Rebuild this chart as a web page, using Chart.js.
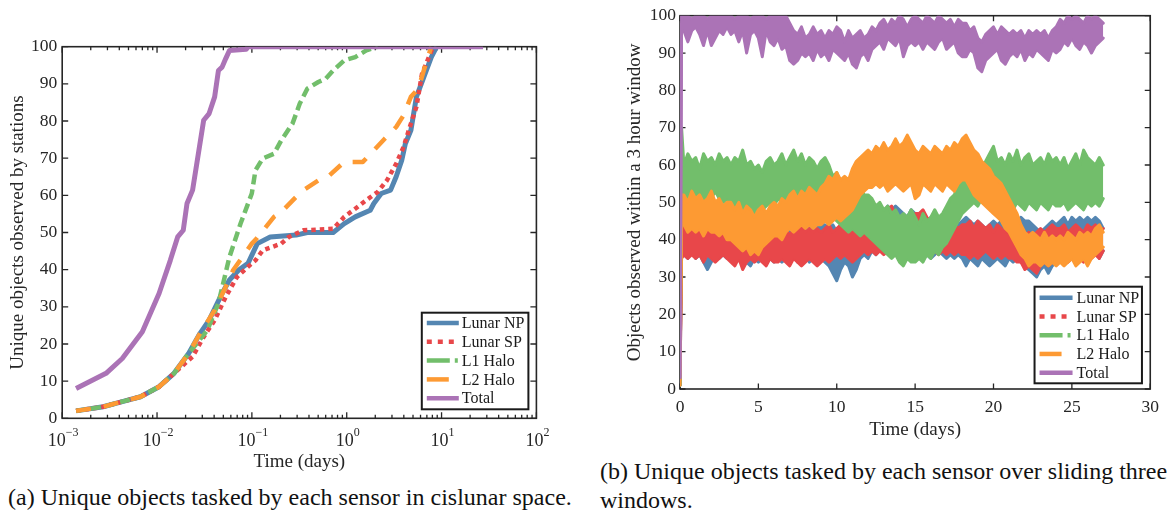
<!DOCTYPE html>
<html>
<head>
<meta charset="utf-8">
<script src="https://cdn.jsdelivr.net/npm/chart.js@4.4.0/dist/chart.umd.min.js"></script>
<style>
  body { margin: 0; background: #fff; width: 1167px; height: 515px; position: relative; overflow: hidden;
         font-family: "Liberation Serif", "Times New Roman", serif; color: #111; }
  .panel { position: absolute; }
  #leftBox { left: 0; top: 0; width: 580px; height: 475px; }
  #rightBox { left: 590px; top: 0; width: 577px; height: 445px; }
  .cap { position: absolute; font-size: 24px; line-height: 29px; white-space: nowrap; }
</style>
</head>
<body>
<div class="panel" id="leftBox"><canvas id="cumChart"></canvas></div>
<div class="panel" id="rightBox"><canvas id="windowChart"></canvas></div>
<div class="cap" style="left:8px; top:483px;">(a) Unique objects tasked by each sensor in cislunar space.</div>
<div class="cap" style="left:600px; top:457px;">(b) Unique objects tasked by each sensor over sliding three<br>windows.</div>
<script>
const serif = '"Liberation Serif", "Times New Roman", serif';
Chart.defaults.font.family = serif;
Chart.defaults.color = '#262626';

const seriesNames = ['Lunar NP', 'Lunar SP', 'L1 Halo', 'L2 Halo', 'Total'];
const colors = ['#5486b2', '#e8474a', '#72be6b', '#fd9a33', '#ab73b6'];

// cumulative unique objects (left, log time axis)
const npTime = [0.0014, 0.0027, 0.0043, 0.0067, 0.0105, 0.0151, 0.0216, 0.0283, 0.0354, 0.0485, 0.058, 0.0727, 0.091, 0.114, 0.156, 0.293, 0.384, 0.72, 0.942, 1.23, 1.77, 1.93, 2.31, 2.9, 3.32, 3.8, 4.15, 4.75, 5.43, 6.5, 7.8, 8.9];
const npCount = [2, 3.1, 4.5, 5.8, 8.5, 12.1, 17.5, 22.8, 26.4, 33.6, 37.2, 39.9, 41.7, 47, 48.8, 49.3, 50, 50, 52.4, 54.2, 56, 57.8, 60.5, 61.4, 65, 69.4, 73.9, 77.5, 86.5, 91.8, 97.2, 100];
const spTime = [0.0014, 0.0027, 0.0043, 0.0067, 0.0105, 0.0151, 0.0237, 0.031, 0.0405, 0.053, 0.0695, 0.091, 0.109, 0.13, 0.204, 0.245, 0.35, 0.72, 0.942, 1.23, 1.61, 2.12, 2.65, 3.32, 3.97, 4.75, 5.43, 6.22, 8.15];
const spCount = [2, 3.1, 4.5, 5.8, 8.5, 12.1, 16.6, 21.9, 26.4, 32.7, 38, 40.8, 42.5, 45.2, 47, 48.8, 50.6, 51, 54.2, 56.4, 58.7, 60.9, 64, 68.5, 73, 79.3, 83.8, 92.7, 100];
const l1Time = [0.0014, 0.0027, 0.0043, 0.0067, 0.0105, 0.0151, 0.0216, 0.0339, 0.0444, 0.058, 0.076, 0.0998, 0.109, 0.13, 0.171, 0.204, 0.268, 0.32, 0.384, 0.502, 0.6, 0.72, 0.942, 1.23, 1.61, 2.12];
const l1Count = [2, 3.1, 4.5, 5.8, 8.5, 12.1, 17.5, 23.7, 31, 43.4, 52.4, 60.5, 66.7, 69.9, 71.2, 74.8, 79.3, 84.7, 88.7, 90.5, 91.4, 93.6, 96.3, 97.2, 99, 100];
const l2Time = [0.0014, 0.0027, 0.0043, 0.0067, 0.0105, 0.0151, 0.0216, 0.0283, 0.0405, 0.053, 0.0636, 0.0998, 0.109, 0.171, 0.204, 0.293, 0.35, 0.502, 0.658, 0.942, 1.48, 1.93, 2.53, 3.32, 3.97, 4.75, 5.69, 6.8, 7.8];
const l2Count = [2, 3.1, 4.5, 5.8, 8.5, 12.1, 17.5, 22.8, 29.1, 35.4, 39.9, 47, 48, 54.2, 55.5, 59.6, 61.4, 64, 65.4, 69, 69, 72.1, 75.3, 78.4, 81.5, 86.5, 88.7, 95.3, 100];
const totalTime = [0.0014, 0.0029, 0.0043, 0.007, 0.0105, 0.0138, 0.0165, 0.0189, 0.0207, 0.0237, 0.0259, 0.031, 0.0354, 0.0405, 0.0444, 0.0485, 0.053, 0.058, 0.087, 0.091, 27.4];
const totalCount = [8, 12.1, 16.1, 23.3, 33.6, 42.5, 48.8, 50.6, 57.8, 61.4, 67.6, 80.2, 82, 86.5, 93.6, 94.5, 96.8, 99, 99.3, 100, 100];

// objects seen in a sliding 3 h window (right): upper and lower edge of each
// jittering trace, two start-up samples then one per quarter day
const windowStart = [0, 0.1];
const windowStep = 0.25;
const npHi = [1, 44,
  43, 45, 44, 46, 44, 45, 43, 44, 46, 44, 45, 44,
  44, 45, 43, 47, 45, 44, 45, 43, 45, 44, 46, 44,
  44, 45, 43, 44, 45, 44, 46, 45, 44, 45, 43, 44,
  44, 43, 44, 42, 41, 43, 42, 44, 43, 44, 45, 46,
  45, 47, 46, 47, 49, 48, 49, 48, 47, 46, 48, 47,
  46, 47, 45, 46, 45, 44, 45, 44, 46, 45, 44, 45,
  46, 45, 44, 45, 44, 43, 44, 45, 44, 45, 44, 45,
  45, 44, 46, 45, 45, 44, 43, 42, 43, 44, 45, 44,
  45, 46, 44, 46, 45, 46, 45, 46, 45, 46, 45, 43];
const npLo = [1, 36,
  36, 35, 37, 35, 36, 34, 32, 34, 36, 35, 36, 35,
  35, 34, 35, 33, 34, 33, 35, 34, 35, 34, 35, 34,
  35, 34, 35, 34, 36, 34, 35, 36, 34, 35, 36, 35,
  34, 33, 31, 29, 32, 34, 33, 30, 32, 35, 36, 35,
  37, 36, 38, 37, 38, 37, 38, 37, 39, 37, 38, 37,
  36, 37, 36, 35, 36, 37, 36, 35, 36, 35, 36, 35,
  33, 35, 34, 33, 35, 34, 33, 34, 35, 34, 33, 35,
  34, 35, 34, 33, 32, 31, 30, 32, 33, 31, 33, 34,
  36, 35, 36, 37, 36, 35, 36, 37, 36, 37, 35, 37];
const spHi = [1, 43,
  43, 44, 42, 44, 43, 42, 44, 43, 44, 42, 43, 44,
  43, 42, 44, 43, 42, 43, 44, 42, 43, 44, 42, 43,
  43, 42, 43, 41, 43, 42, 44, 42, 43, 42, 43, 42,
  43, 44, 42, 43, 44, 43, 45, 44, 43, 44, 45, 46,
  45, 46, 47, 45, 48, 49, 46, 45, 46, 45, 46, 47,
  47, 48, 46, 45, 44, 45, 43, 44, 45, 44, 43, 44,
  44, 45, 43, 45, 44, 43, 44, 42, 44, 43, 42, 43,
  43, 42, 43, 41, 42, 41, 42, 43, 42, 43, 44, 43,
  43, 44, 42, 43, 44, 43, 42, 44, 43, 44, 42, 43];
const spLo = [1, 35,
  36, 35, 36, 35, 36, 34, 36, 35, 34, 35, 36, 35,
  34, 33, 35, 32, 34, 35, 34, 35, 34, 33, 35, 34,
  34, 35, 34, 33, 35, 34, 33, 34, 35, 34, 33, 34,
  35, 34, 35, 36, 35, 36, 35, 34, 35, 36, 37, 36,
  37, 36, 37, 36, 37, 38, 37, 38, 37, 38, 37, 38,
  37, 38, 37, 36, 37, 36, 37, 36, 37, 36, 37, 36,
  36, 35, 36, 35, 36, 37, 36, 35, 36, 35, 36, 35,
  35, 34, 34, 32, 33, 32, 31, 33, 34, 33, 34, 35,
  35, 36, 34, 35, 36, 35, 34, 36, 35, 36, 35, 37];
const l1Hi = [1, 70,
  60, 63, 61, 62, 59, 63, 61, 62, 60, 63, 61, 62,
  60, 62, 61, 64, 60, 61, 59, 60, 58, 61, 62, 60,
  61, 63, 60, 62, 64, 61, 63, 60, 62, 61, 59, 61,
  62, 60, 57, 58, 55, 56, 54, 55, 53, 54, 52, 52,
  51, 49, 50, 48, 49, 47, 48, 46, 47, 46, 48, 46,
  44, 47, 45, 46, 48, 46, 47, 49, 51, 52, 55, 56,
  58, 57, 60, 62, 59, 61, 63, 65, 61, 62, 60, 63,
  61, 64, 60, 62, 63, 60, 61, 62, 60, 63, 61, 62,
  60, 62, 59, 61, 63, 60, 64, 62, 61, 60, 62, 60];
const l1Lo = [1, 52,
  52, 51, 53, 51, 52, 50, 52, 51, 53, 51, 50, 51,
  49, 48, 47, 48, 46, 48, 47, 46, 48, 49, 50, 49,
  51, 50, 49, 51, 50, 49, 51, 50, 49, 51, 50, 50,
  49, 47, 46, 45, 44, 43, 42, 43, 42, 41, 42, 41,
  40, 39, 38, 37, 36, 35, 36, 34, 33, 35, 34, 34,
  35, 34, 36, 35, 37, 36, 38, 39, 41, 43, 45, 47,
  48, 49, 50, 49, 51, 50, 49, 50, 51, 49, 50, 49,
  48, 50, 49, 48, 50, 49, 48, 50, 49, 48, 50, 49,
  49, 50, 48, 49, 50, 49, 48, 50, 49, 50, 49, 51];
const l2Hi = [4, 52,
  52, 50, 53, 51, 52, 50, 51, 53, 50, 51, 49, 50,
  50, 48, 50, 47, 49, 48, 46, 48, 49, 47, 49, 50,
  49, 51, 50, 52, 53, 51, 53, 52, 54, 53, 52, 54,
  55, 57, 56, 58, 56, 57, 56, 59, 61, 62, 63, 64,
  63, 65, 64, 66, 64, 65, 67, 65, 66, 68, 66, 64,
  63, 65, 64, 63, 65, 64, 63, 65, 64, 66, 65, 67,
  68, 66, 64, 63, 61, 60, 59, 57, 56, 55, 53, 51,
  49, 47, 44, 42, 41, 42, 41, 40, 42, 40, 41, 40,
  41, 40, 42, 41, 40, 42, 41, 42, 41, 43, 44, 42];
const l2Lo = [1, 44,
  44, 42, 43, 42, 43, 41, 43, 42, 42, 41, 42, 40,
  40, 39, 38, 37, 38, 36, 37, 36, 38, 39, 40, 41,
  41, 40, 42, 43, 42, 43, 44, 43, 44, 43, 44, 44,
  45, 44, 45, 46, 45, 46, 47, 48, 50, 52, 53, 54,
  54, 55, 54, 55, 53, 54, 55, 54, 53, 54, 55, 51,
  52, 55, 54, 53, 55, 54, 53, 55, 54, 53, 55, 56,
  56, 54, 52, 51, 50, 49, 48, 47, 46, 45, 43, 42,
  40, 38, 36, 35, 33, 34, 34, 33, 34, 33, 34, 33,
  34, 33, 34, 35, 33, 34, 35, 33, 35, 36, 37, 38];
const totalHi = [3, 100,
  100, 100, 99, 100, 100, 100, 99, 100, 100, 100, 100, 100,
  100, 99, 100, 100, 100, 99, 100, 100, 100, 99, 100, 100,
  100, 100, 100, 98, 96, 95, 97, 94, 95, 97, 95, 96,
  94, 96, 95, 97, 96, 93, 96, 94, 95, 96, 94, 95,
  97, 96, 98, 99, 97, 99, 98, 100, 99, 97, 99, 100,
  99, 98, 100, 99, 98, 100, 99, 98, 99, 97, 99, 98,
  98, 96, 97, 94, 93, 95, 96, 97, 95, 97, 96, 95,
  96, 95, 96, 94, 96, 95, 96, 95, 96, 94, 96, 97,
  99, 98, 100, 99, 100, 99, 98, 100, 99, 100, 99, 98];
const totalLo = [3, 97,
  96, 93, 96, 97, 95, 92, 96, 92, 94, 96, 95, 97,
  95, 96, 93, 96, 90, 95, 96, 94, 89, 96, 93, 92,
  94, 91, 92, 88, 87, 88, 90, 89, 90, 88, 91, 89,
  90, 88, 91, 90, 89, 88, 90, 87, 86, 89, 90, 88,
  91, 92, 93, 91, 94, 93, 92, 94, 89, 92, 93, 92,
  93, 91, 93, 92, 91, 93, 94, 91, 92, 93, 90, 89,
  89, 91, 90, 86, 85, 88, 89, 90, 91, 88, 87, 89,
  90, 89, 91, 88, 90, 89, 91, 90, 89, 88, 91, 90,
  91, 93, 92, 94, 92, 91, 93, 92, 90, 92, 93, 94];
const windowTimes = windowStart.concat(
  Array.from({ length: npHi.length - windowStart.length }, (_, i) => (i + 1) * windowStep));

const plotDash = [[], [4.5, 4], [10, 5], [15, 13], []];
const legendDash = [[], [5, 6], [23, 5, 3, 5], [22, 14], []];
const decades = [0.001, 0.01, 0.1, 1, 10, 100];
const minorLog = [];
for (let e = -3; e <= 1; e++) for (let m = 2; m <= 9; m++) minorLog.push(m * Math.pow(10, e));

function series(i, xs, ys, width) {
  return {
    label: seriesNames[i],
    data: xs.map((t, k) => ({ x: t, y: ys[k] })),
    borderColor: colors[i],
    borderWidth: width,
    borderDash: plotDash[i],
    legendDash: legendDash[i],
    borderCapStyle: 'butt',
    borderJoinStyle: 'round',
    pointRadius: 0,
    tension: 0,
    fill: false,
    order: 5 - i
  };
}

// a jittering trace drawn as its upper edge filled down to its lower edge
function band(i, hi, lo) {
  const base = {
    borderColor: colors[i], backgroundColor: colors[i], borderWidth: 3,
    borderJoinStyle: 'round', borderCapStyle: 'round',
    pointRadius: 0, tension: 0, order: 5 - i
  };
  return [
    Object.assign({}, base, { label: seriesNames[i], legendDash: legendDash[i], fill: '+1',
      data: windowTimes.map((t, k) => ({ x: t, y: hi[k] })) }),
    Object.assign({}, base, { label: seriesNames[i] + ' low', legendSkip: true, fill: false,
      data: windowTimes.map((t, k) => ({ x: t, y: lo[k] })) })
  ];
}

// box around the axes plus inward tick marks on all four sides
const frameTicks = {
  id: 'frameTicks',
  beforeDatasetsDraw(chart, args, o) {
    const { ctx, chartArea: a, scales: { x, y } } = chart;
    ctx.save();
    ctx.strokeStyle = '#262626';
    ctx.lineWidth = 1.6;
    ctx.strokeRect(a.left, a.top, a.right - a.left, a.bottom - a.top);
    ctx.lineWidth = 1.3;
    ctx.beginPath();
    const xt = (v, len) => {
      const p = x.getPixelForValue(v);
      ctx.moveTo(p, a.bottom); ctx.lineTo(p, a.bottom - len);
      ctx.moveTo(p, a.top); ctx.lineTo(p, a.top + len);
    };
    x.ticks.forEach(t => xt(t.value, o.len));
    (o.minorX || []).forEach(v => xt(v, o.minorLen));
    y.ticks.forEach(t => {
      const p = y.getPixelForValue(t.value);
      ctx.moveTo(a.left, p); ctx.lineTo(a.left + o.len, p);
      ctx.moveTo(a.right, p); ctx.lineTo(a.right - o.len, p);
    });
    ctx.stroke();
    ctx.restore();
  }
};

// legend box in the lower right corner of the axes
const boxLegend = {
  id: 'boxLegend',
  afterDatasetsDraw(chart, args, o) {
    const { ctx, chartArea: a } = chart;
    const x0 = a.right - o.inset[0] - o.width;
    const y0 = a.bottom - o.inset[1] - o.height;
    ctx.save();
    ctx.fillStyle = '#fff';
    ctx.fillRect(x0, y0, o.width, o.height);
    ctx.strokeStyle = '#1a1a1a';
    ctx.lineWidth = 2;
    ctx.strokeRect(x0, y0, o.width, o.height);
    ctx.font = '16px ' + serif;
    ctx.textBaseline = 'middle';
    chart.data.datasets.filter(ds => !ds.legendSkip).forEach((ds, i) => {
      const ly = y0 + o.firstRow + i * o.rowGap;
      ctx.beginPath();
      ctx.setLineDash(ds.legendDash);
      ctx.lineCap = 'butt';
      ctx.strokeStyle = ds.borderColor;
      ctx.lineWidth = 4.5;
      ctx.moveTo(x0 + 5, ly);
      ctx.lineTo(x0 + 5 + o.sample, ly);
      ctx.stroke();
      ctx.setLineDash([]);
      ctx.fillStyle = '#1a1a1a';
      ctx.fillText(ds.label, x0 + o.textX, ly + 1);
    });
    ctx.restore();
  }
};

// 10^n labels with a raised exponent
const powLabels = {
  id: 'powLabels',
  afterDraw(chart, args, o) {
    const { ctx, chartArea: a, scales: { x } } = chart;
    ctx.save();
    ctx.fillStyle = '#262626';
    ctx.textBaseline = 'middle';
    ctx.textAlign = 'left';
    x.ticks.forEach(t => {
      const exp = String(Math.round(Math.log10(t.value))).replace('-', '\u2212');
      ctx.font = o.baseSize + 'px ' + serif;
      const wb = ctx.measureText('10').width;
      ctx.font = o.expSize + 'px ' + serif;
      const we = ctx.measureText(exp).width;
      const px = x.getPixelForValue(t.value) - (wb + we) / 2 + 1;
      ctx.font = o.baseSize + 'px ' + serif;
      ctx.fillText('10', px, a.bottom + o.baseY);
      ctx.font = o.expSize + 'px ' + serif;
      ctx.fillText(exp, px + wb, a.bottom + o.expY);
    });
    ctx.restore();
  }
};

new Chart(document.getElementById('cumChart'), {
  type: 'line',
  data: {
    datasets: [
      series(0, npTime, npCount, 5),
      series(1, spTime, spCount, 4.5),
      series(2, l1Time, l1Count, 4.5),
      series(3, l2Time, l2Count, 4.5),
      series(4, totalTime, totalCount, 5)
    ]
  },
  options: {
    responsive: true,
    maintainAspectRatio: false,
    animation: false,
    events: [],
    layout: { padding: { top: 46.7, right: 43.6, left: 0, bottom: 0 } },
    scales: {
      x: {
        type: 'logarithmic', min: 0.001, max: 100,
        afterBuildTicks: s => { s.ticks = decades.map(v => ({ value: v })); },
        afterFit: s => { s.height = 56.7; },
        grid: { display: false, drawTicks: false },
        border: { display: false },
        ticks: { display: false },
        title: { display: true, text: 'Time (days)', font: { size: 19 }, padding: { top: 0, bottom: 2 } }
      },
      y: {
        min: 0, max: 100,
        afterFit: s => { s.width = 62.2; },
        grid: { display: false, drawTicks: false },
        border: { display: false },
        ticks: { stepSize: 10, font: { size: 17.5 }, padding: 5 },
        title: { display: true, text: 'Unique objects observed by stations', font: { size: 19 }, padding: { top: 7, bottom: 0 } }
      }
    },
    plugins: {
      legend: { display: false },
      tooltip: { enabled: false },
      frameTicks: { len: 6, minorLen: 3.5, minorX: minorLog },
      boxLegend: { width: 106.6, height: 96.6, inset: [8, 9], firstRow: 10.3, rowGap: 18.8, sample: 32, textX: 40 },
      powLabels: { baseSize: 18, expSize: 12, baseY: 23.4, expY: 14.7 }
    }
  },
  plugins: [frameTicks, boxLegend, powLabels]
});

new Chart(document.getElementById('windowChart'), {
  type: 'line',
  data: {
    datasets: [].concat(
      band(0, npHi, npLo),
      band(1, spHi, spLo),
      band(2, l1Hi, l1Lo),
      band(3, l2Hi, l2Lo),
      band(4, totalHi, totalLo))
  },
  options: {
    responsive: true,
    maintainAspectRatio: false,
    animation: false,
    events: [],
    layout: { padding: { top: 15.7, right: 12, left: 0, bottom: 0 } },
    scales: {
      x: {
        type: 'linear', min: 0, max: 30,
        afterFit: s => { s.height = 56; },
        grid: { display: false, drawTicks: false },
        border: { display: false },
        ticks: { stepSize: 5, font: { size: 17.5 }, padding: 8, maxRotation: 0 },
        title: { display: true, text: 'Time (days)', font: { size: 19 }, padding: { top: 0, bottom: 3.6 } }
      },
      y: {
        min: 0, max: 100,
        afterFit: s => { s.width = 90; },
        grid: { display: false, drawTicks: false },
        border: { display: false },
        ticks: { stepSize: 10, font: { size: 17.5 }, padding: 4 },
        title: { display: true, text: 'Objects observed within a 3 hour window', font: { size: 19 }, padding: { top: 33.6, bottom: 0 } }
      }
    },
    plugins: {
      legend: { display: false },
      tooltip: { enabled: false },
      filler: { propagate: false },
      frameTicks: { len: 5.5 },
      boxLegend: { width: 107.4, height: 96.6, inset: [8.3, 5.7], firstRow: 11, rowGap: 18.75, sample: 33, textX: 42 }
    }
  },
  plugins: [frameTicks, boxLegend]
});
</script>
</body>
</html>
